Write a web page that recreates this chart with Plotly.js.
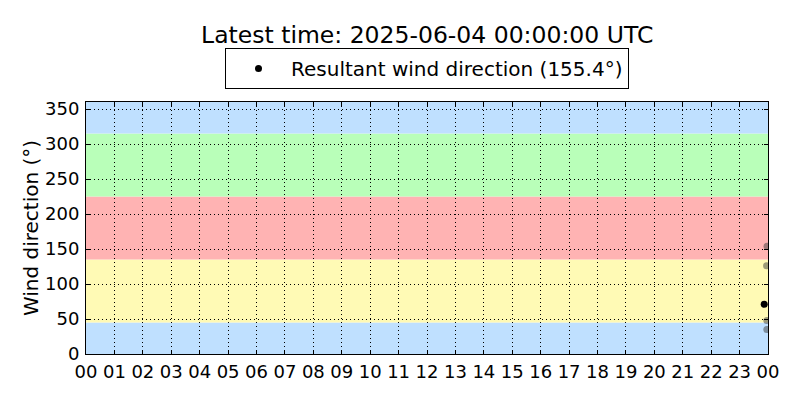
<!DOCTYPE html>
<html>
<head>
<meta charset="utf-8">
<script src="https://cdn.plot.ly/plotly-3.0.1.min.js"></script>
<style>html,body{margin:0;padding:0;background:#fff;}#chart{width:800px;height:400px;}</style>
</head>
<body>
<div id="chart"></div>
<script>
// Data
const resultantTimes = ['2025-06-03 23:52:00'];
const resultantDirs = [71];
const historyTimes = ['2025-06-03 23:58:00', '2025-06-03 23:57:00', '2025-06-03 23:57:30', '2025-06-03 23:57:30'];
const historyDirs = [154, 126, 48, 35];
const bandLower = [0, 45, 135, 225, 315];
const bandUpper = [45, 135, 225, 315, 360];
const bandColors = ['#bfe0ff', '#fffab5', '#ffb3b3', '#b9ffb9', '#bfe0ff'];
const xRange = ['2025-06-03 00:00:00', '2025-06-04 00:00:00'];
const titleText = 'Latest time: 2025-06-04 00:00:00 UTC';
const legendText = 'Resultant wind direction (155.4°)';

const font = 'DejaVu Sans, sans-serif';

const shapes = bandLower.map((lo, i) => ({
  type: 'rect', xref: 'paper', yref: 'y', x0: 0, x1: 1, y0: lo, y1: bandUpper[i],
  fillcolor: bandColors[i], line: {width: 0}, layer: 'below'
}));

const traces = [
  {
    x: historyTimes, y: historyDirs, type: 'scatter', mode: 'markers',
    marker: {color: 'rgba(60,60,60,0.5)', size: 7}, showlegend: false, hoverinfo: 'skip'
  },
  {
    x: resultantTimes, y: resultantDirs, type: 'scatter', mode: 'markers',
    marker: {color: 'black', size: 7}, name: legendText, showlegend: true
  }
];

const axisCommon = {
  showline: true, linecolor: 'black', linewidth: 1, mirror: 'ticks',
  ticks: 'inside', ticklen: 4, tickcolor: 'black',
  showgrid: true, gridcolor: 'black', gridwidth: 1, griddash: '1px,3px',
  zeroline: false, tickfont: {family: font, size: 18, color: 'black'}
};

const layout = {
  width: 800, height: 400,
  margin: {l: 86, r: 32, t: 102, b: 46},
  paper_bgcolor: 'white', plot_bgcolor: 'white',
  font: {family: font, color: 'black'},
  title: {text: titleText, font: {family: font, size: 23.5, color: 'black'},
          x: 0.534, xanchor: 'center', y: 1 - 35/400, yanchor: 'middle', yref: 'container'},
  xaxis: Object.assign({}, axisCommon, {
    type: 'date', range: xRange, dtick: 3600000, tickformat: '%H', ticklabelstandoff: 1
  }),
  yaxis: Object.assign({}, axisCommon, {
    range: [0, 360], dtick: 50, ticklabelstandoff: 2,
    title: {text: 'Wind direction (°)', font: {family: font, size: 20, color: 'black'}, standoff: 1}
  }),
  shapes: shapes,
  showlegend: true,
  legend: {
    orientation: 'h', x: 0.5, xanchor: 'center', y: 1.052, yanchor: 'bottom',
    bordercolor: 'black', borderwidth: 1, bgcolor: 'white', itemwidth: 55,
    font: {family: font, size: 20, color: 'black'}
  }
};

Plotly.newPlot('chart', traces, layout, {staticPlot: true, displayModeBar: false});
</script>
</body>
</html>
